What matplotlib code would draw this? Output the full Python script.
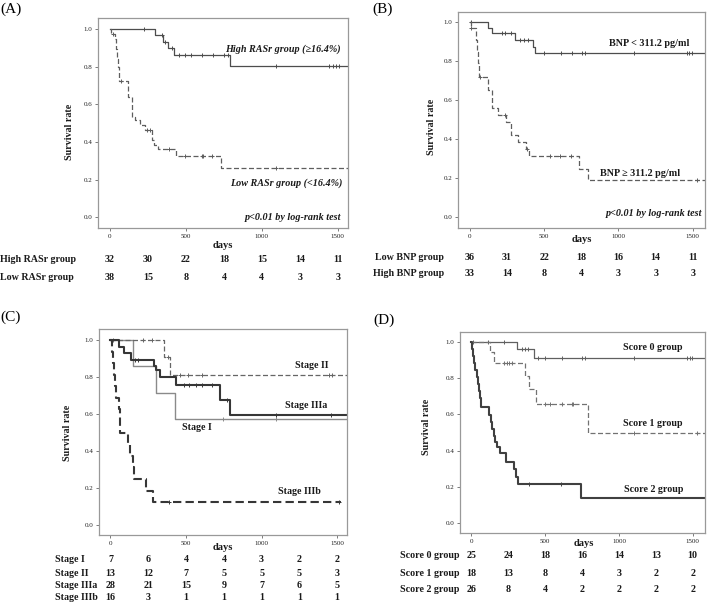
import numpy as np
import matplotlib
matplotlib.use('Agg')
import matplotlib.pyplot as plt
from matplotlib import transforms

plt.rcParams['font.family'] = ['Liberation Serif', 'DejaVu Serif']

W, H = 709, 604

# ---------------- data ----------------
days_ticks = [0, 500, 1000, 1500]
risk_days = [0, 250, 500, 750, 1000, 1250, 1500]

# (A) RASr
a_hi_t = [0, 299, 351, 384, 421, 790]
a_hi_s = [1.0, 0.970, 0.933, 0.899, 0.862, 0.805]
a_hi_c = [224, 340, 360, 406, 454, 494, 531, 606, 676, 751, 777, 1093, 1440, 1466, 1488, 1510]
a_lo_t = [0, 7, 33, 37, 41, 45, 49, 53, 57, 60, 121, 143, 165, 198, 230, 274, 290, 314, 432, 731]
a_lo_s = [1.0, 0.974, 0.947, 0.921, 0.895, 0.868, 0.842, 0.80, 0.76, 0.724, 0.64, 0.535, 0.52,
          0.49, 0.465, 0.41, 0.385, 0.363, 0.328, 0.262]
a_lo_c = [22, 70, 241, 262, 390, 494, 604, 615, 674, 1093]
a_risk_hi = [32, 30, 22, 18, 15, 14, 11]
a_risk_lo = [38, 15, 8, 4, 4, 3, 3]

# (B) BNP
b_lo_t = [0, 123, 153, 303, 425, 440]
b_lo_s = [1.0, 0.973, 0.947, 0.911, 0.876, 0.843]
b_lo_c = [11, 220, 240, 276, 341, 364, 393, 500, 617, 685, 752, 775, 1107, 1459, 1477, 1497]
b_hi_t = [0, 7, 40, 44, 48, 52, 56, 60, 123, 153, 190, 247, 278, 323, 379, 397, 732, 797]
b_hi_s = [1.0, 0.97, 0.94, 0.91, 0.88, 0.85, 0.79, 0.72, 0.655, 0.56, 0.525, 0.49, 0.42,
          0.386, 0.352, 0.313, 0.25, 0.19]
b_hi_c = [11, 67, 236, 385, 537, 604, 682, 1526]
b_risk_lo = [36, 31, 22, 18, 16, 14, 11]
b_risk_hi = [33, 14, 8, 4, 3, 3, 3]

# (C) stage
c1_t = [0, 150, 301, 427]
c1_s = [1.0, 0.857, 0.714, 0.571]
c1_c = [743, 1097]
c2_t = [0, 356, 394]
c2_s = [1.0, 0.91, 0.81]
c2_c = [18, 217, 272, 378, 460, 515, 604, 1445, 1467]
c3a_t = [0, 55, 92, 137, 287, 303, 325, 435, 726, 792]
c3a_s = [1.0, 0.964, 0.929, 0.893, 0.857, 0.839, 0.80, 0.757, 0.677, 0.596]
c3a_c = [163, 181, 486, 521, 564, 608, 674, 770, 1097, 1456]
c3b_t = [0, 12, 18, 24, 30, 36, 58, 60, 62, 117, 128, 150, 153, 232, 279]
c3b_s = [1.0, 0.9375, 0.875, 0.8125, 0.75, 0.6875, 0.625, 0.5625, 0.5, 0.4375, 0.375,
         0.3125, 0.25, 0.1875, 0.125]
c3b_c = [389, 1511]
c_risk = {'Stage I': [7, 6, 4, 4, 3, 2, 2],
          'Stage II': [13, 12, 7, 5, 5, 5, 3],
          'Stage IIIa': [28, 21, 15, 9, 7, 6, 5],
          'Stage IIIb': [16, 3, 1, 1, 1, 1, 1]}

# (D) score
d0_t = [0, 307, 427]
d0_s = [1.0, 0.96, 0.914]
d0_c = [14, 115, 224, 341, 364, 386, 454, 499, 612, 748, 770, 1105, 1459, 1482, 1498]
d1_t = [0, 126, 154, 364, 391, 438, 793]
d1_s = [1.0, 0.944, 0.884, 0.811, 0.738, 0.66, 0.50]
d1_c = [221, 239, 255, 273, 499, 533, 612, 680, 691, 1105, 1527]
d2_t = [0, 7, 14, 21, 28, 35, 42, 50, 57, 64, 122, 130, 140, 150, 160, 175, 194, 235, 289, 305, 319, 741]
d2_s = [1.0, 0.962, 0.923, 0.885, 0.846, 0.808, 0.769, 0.731, 0.692, 0.642, 0.596, 0.56, 0.52,
        0.48, 0.45, 0.42, 0.385, 0.339, 0.297, 0.255, 0.216, 0.141]
d2_c = [393, 608]
d_risk = {'Score 0 group': [25, 24, 18, 16, 14, 13, 10],
          'Score 1 group': [18, 13, 8, 4, 3, 2, 2],
          'Score 2 group': [26, 8, 4, 2, 2, 2, 2]}

fig = plt.figure(figsize=(W / 100, H / 100), dpi=100)


def px_axes(l, t, r, b):
    return fig.add_axes([l / W, 1 - b / H, (r - l) / W, (b - t) / H])


def ftext(x, y, s, **kw):
    fig.text(x / W, 1 - y / H, s, **kw)


def km(ax, t, s, cens, end=1700, color='#555555', lw=0.9, ls='-'):
    tt = list(t) + [end]
    ss = list(s) + [s[-1]]
    ax.step(tt, ss, where='post', color=color, lw=lw, ls=ls,
            dashes=(4, 2) if ls == '--' else (None, None))
    # censor marks sit on the curve
    idx = np.searchsorted(t, cens, side='right') - 1
    ax.plot(cens, np.array(s)[idx], ls='none', marker='+', ms=3.2, mew=0.7, color=color)


def setup(ax, xlim, ylim):
    ax.set_xlim(*xlim)
    ax.set_ylim(*ylim)
    ax.set_xticks(days_ticks)
    ax.set_yticks([0.0, 0.2, 0.4, 0.6, 0.8, 1.0])
    ax.set_yticklabels(['0.0', '0.2', '0.4', '0.6', '0.8', '1.0'])
    ax.tick_params(labelsize=5, length=2, width=0.6, color='#666666', labelcolor='#222222', pad=2)
    for sp in ax.spines.values():
        sp.set_color('#999999')
        sp.set_linewidth(0.9)


def risk_table(ax, rows, y_px, lab_x, ha='left', fs=7.2):
    tr = transforms.blended_transform_factory(ax.transData, fig.transFigure)
    for (name, vals), y in zip(rows, y_px):
        ftext(lab_x, y, name, fontsize=fs, fontweight='bold', ha=ha, va='center', color='#1a1a1a')
        for d, v in zip(risk_days, vals):
            ax.text(d, 1 - y / H, str(v), transform=tr, fontsize=fs, fontweight='bold',
                    ha='center', va='center', color='#1a1a1a', clip_on=False)


lbl = dict(fontsize=7.2, fontweight='bold', color='#1a1a1a')
note = dict(fontsize=7.3, fontweight='bold', style='italic', color='#1a1a1a')

# ---------------- (A) ----------------
axA = px_axes(98, 18, 348, 228)
setup(axA, (-79, 1568), (-0.057, 1.06))
km(axA, a_hi_t, a_hi_s, a_hi_c, color='#4d4d4d')
km(axA, a_lo_t, a_lo_s, a_lo_c, color='#5e5e5e', ls='--')
ftext(0, 9, '(A)', fontsize=11, va='center')
ftext(70, 132, 'Survival rate', rotation=90, ha='center', va='center', **lbl)
ftext(223, 245, 'days', ha='center', va='center', fontsize=7.6, fontweight='bold', color='#1a1a1a')
ftext(341, 49, 'High RASr group (\u226516.4%)', ha='right', va='center', **note)
ftext(342, 183, 'Low RASr group (<16.4%)', ha='right', va='center', **note)
ftext(341, 218, 'p<0.01 by log-rank test', ha='right', va='center', **note)
risk_table(axA, [('High RASr group', a_risk_hi), ('Low RASr group', a_risk_lo)], [260, 278], 0)

# ---------------- (B) ----------------
axB = px_axes(458, 12, 705, 228)
setup(axB, (-79, 1582), (-0.055, 1.053))
km(axB, b_lo_t, b_lo_s, b_lo_c, color='#4d4d4d')
km(axB, b_hi_t, b_hi_s, b_hi_c, color='#5e5e5e', ls='--')
ftext(372, 9, '(B)', fontsize=11, va='center')
ftext(431, 127, 'Survival rate', rotation=90, ha='center', va='center', **lbl)
ftext(582, 240, 'days', ha='center', va='center', fontsize=7.6, fontweight='bold', color='#1a1a1a')
ftext(689, 43, 'BNP < 311.2 pg/ml', ha='right', va='center', fontsize=7.3, fontweight='bold', color='#1a1a1a')
ftext(680, 173, 'BNP \u2265 311.2 pg/ml', ha='right', va='center', fontsize=7.3, fontweight='bold', color='#1a1a1a')
ftext(702, 213, 'p<0.01 by log-rank test', ha='right', va='center', **note)
risk_table(axB, [('Low BNP group', b_risk_lo), ('High BNP group', b_risk_hi)], [257, 273], 444, ha='right')

# ---------------- (C) ----------------
axC = px_axes(99, 329, 347, 535)
setup(axC, (-76, 1565), (-0.052, 1.059))
km(axC, c1_t, c1_s, c1_c, color='#8a8a8a', lw=1.0)
km(axC, c2_t, c2_s, c2_c, color='#666666', lw=0.9, ls='--')
km(axC, c3a_t, c3a_s, c3a_c, color='#363636', lw=1.5)
km(axC, c3b_t, c3b_s, c3b_c, end=1522, color='#363636', lw=1.5, ls='--')
ftext(0, 317, '(C)', fontsize=11, va='center')
ftext(67, 433, 'Survival rate', rotation=90, ha='center', va='center', **lbl)
ftext(223, 548, 'days', ha='center', va='center', fontsize=7.6, fontweight='bold', color='#1a1a1a')
ftext(312, 366, 'Stage II', ha='center', va='center', **lbl)
ftext(306, 406, 'Stage IIIa', ha='center', va='center', **lbl)
ftext(197, 428, 'Stage I', ha='center', va='center', **lbl)
ftext(299, 492, 'Stage IIIb', ha='center', va='center', **lbl)
risk_table(axC, list(c_risk.items()), [560, 573, 586, 598], 55)

# ---------------- (D) ----------------
axD = px_axes(460, 332, 705, 533)
setup(axD, (-77, 1583), (-0.055, 1.055))
km(axD, d0_t, d0_s, d0_c, color='#606060', lw=0.9)
km(axD, d1_t, d1_s, d1_c, color='#727272', lw=0.9, ls='--')
km(axD, d2_t, d2_s, d2_c, color='#404040', lw=1.5)
ftext(373, 320, '(D)', fontsize=11, va='center')
ftext(427, 427, 'Survival rate', rotation=90, ha='center', va='center', **lbl)
ftext(584, 544, 'days', ha='center', va='center', fontsize=7.6, fontweight='bold', color='#1a1a1a')
ftext(653, 347, 'Score 0 group', ha='center', va='center', **lbl)
ftext(653, 424, 'Score 1 group', ha='center', va='center', **lbl)
ftext(654, 489, 'Score 2 group', ha='center', va='center', **lbl)
risk_table(axD, list(d_risk.items()), [556, 573, 589], 400)

fig.savefig('out.png', dpi=100)
